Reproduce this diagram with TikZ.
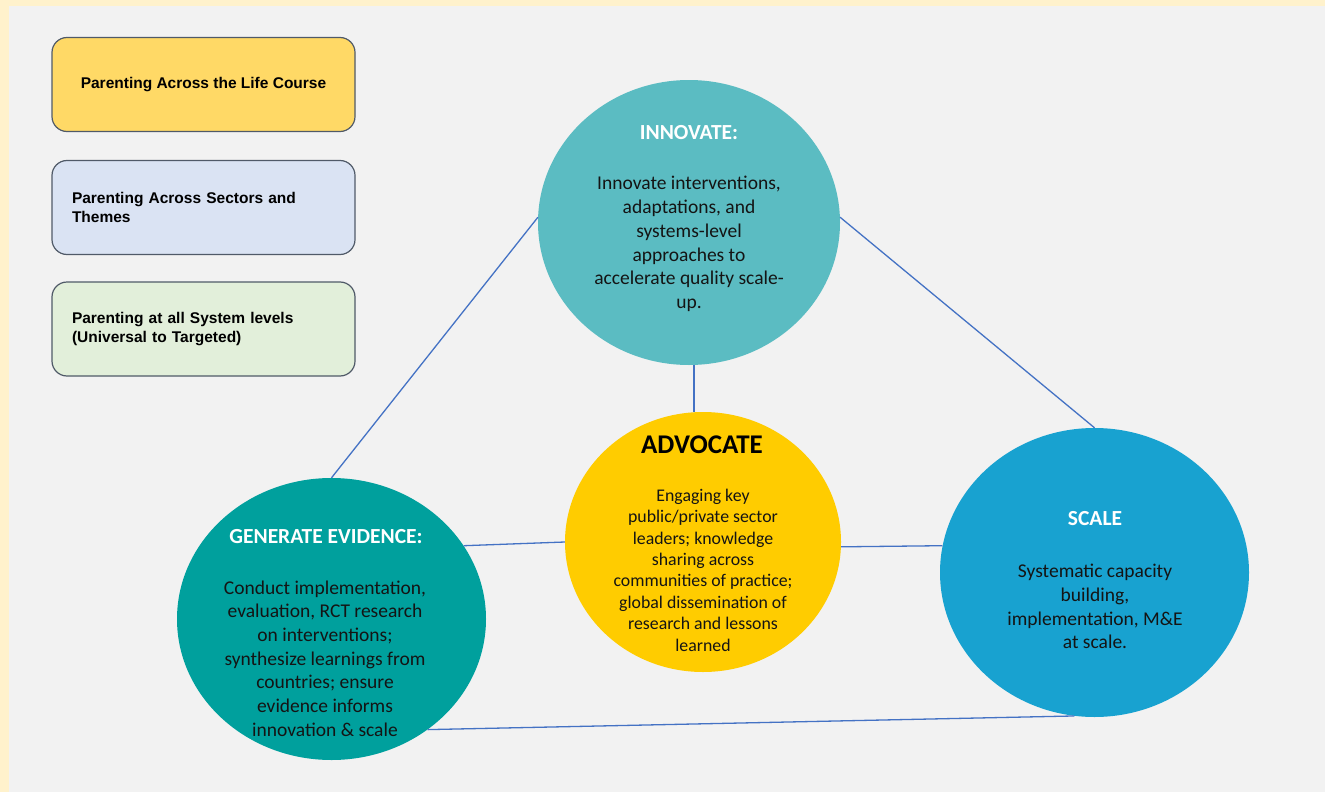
\documentclass[tikz,border=0pt]{standalone}
\usepackage{fontspec}
\setmainfont{Carlito}
\newfontfamily\boxfont{Liberation Sans}
\usetikzlibrary{shapes.geometric}

\definecolor{cream}{HTML}{FFF2CC}
\definecolor{bggrey}{HTML}{F2F2F2}
\definecolor{boxline}{HTML}{505A68}
\definecolor{lifeyellow}{HTML}{FFD966}
\definecolor{sectorblue}{HTML}{DAE3F3}
\definecolor{levelgreen}{HTML}{E2EFDA}
\definecolor{innteal}{HTML}{5BBCC2}
\definecolor{genteal}{HTML}{00A09D}
\definecolor{advyellow}{HTML}{FFCC00}
\definecolor{sclblue}{HTML}{18A2D0}
\definecolor{linkblue}{HTML}{4472C4}

\tikzset{
	legend/.style={draw=boxline, line width=1.2pt, rounded corners=15pt, minimum width=303pt, minimum height=94pt, font=\boxfont\bfseries\fontsize{15.5}{19}\selectfont},
	hub/.style={ellipse, inner sep=0pt},
	link/.style={linkblue, line width=1.3pt},
	hubtitle/.style={font=\bfseries\fontsize{21.5}{26}\selectfont, text=white},
	hubtext/.style={align=center, font=\fontsize{19.5}{23.7}\selectfont, text=black!92},
}

\begin{document}
\begin{tikzpicture}[x=1pt, y=-1pt]
	\fill[cream] (0,0) rectangle (1325,792);
	\fill[bggrey] (9,6) rectangle (1325,792);

	\node[legend, fill=lifeyellow] (life) at (203.5,84.5) {Parenting Across the Life Course};
	\node[legend, fill=sectorblue, text width=263pt, inner xsep=20pt, align=left] (sectors) at (203.5,207.5) {Parenting Across Sectors and\\Themes};
	\node[legend, fill=levelgreen, text width=263pt, inner xsep=20pt, align=left] (levels) at (203.5,329) {Parenting at all System levels\\(Universal to Targeted)};

	\node[hub, fill=innteal, minimum width=302pt, minimum height=285pt] (inn) at (689,222.5) {};
	\node[hub, fill=genteal, minimum width=309pt, minimum height=282pt] (gen) at (331.5,619) {};
	\node[hub, fill=advyellow, minimum width=276pt, minimum height=260pt] (adv) at (703,542) {};
	\node[hub, fill=sclblue, minimum width=309pt, minimum height=289pt] (scl) at (1094.5,572.5) {};

	\node[hubtitle] (inntitle) at (689,133) {INNOVATE:};
	\node[hubtext] (inntext) at (689,244) {Innovate interventions,\\adaptations, and\\systems-level\\approaches to\\accelerate quality scale-\\up.};
	\node[hubtitle] (gentitle) at (326,537) {GENERATE EVIDENCE:};
	\node[hubtext] (gentext) at (325,658.5) {Conduct implementation,\\evaluation, RCT research\\on interventions;\\synthesize learnings from\\countries; ensure\\evidence informs\\innovation \& scale};
	\node[hubtitle, text=black, font=\bfseries\fontsize{27}{32}\selectfont] (advtitle) at (702,445) {ADVOCATE};
	\node[hubtext, font=\fontsize{17.8}{21.4}\selectfont] (advtext) at (703,570) {Engaging key\\public/private sector\\leaders; knowledge\\sharing across\\communities of practice;\\global dissemination of\\research and lessons\\learned};
	\node[hubtitle] (scltitle) at (1095,519) {SCALE};
	\node[hubtext] (scltext) at (1095,606.5) {Systematic capacity\\building,\\implementation, M\&E\\at scale.};

	\draw[link] (inn.178) -- (gen.north);
	\draw[link] (inn.2) -- (scl.north);
	\draw[link] (inn.-88) -- (inn.-88 |- adv.north);
	\draw[link] (gen.29) -- (adv.west);
	\draw[link] (adv.-2) -- (scl.170);
	\draw[link] (gen.-49) -- (scl.-98);
\end{tikzpicture}
\end{document}
